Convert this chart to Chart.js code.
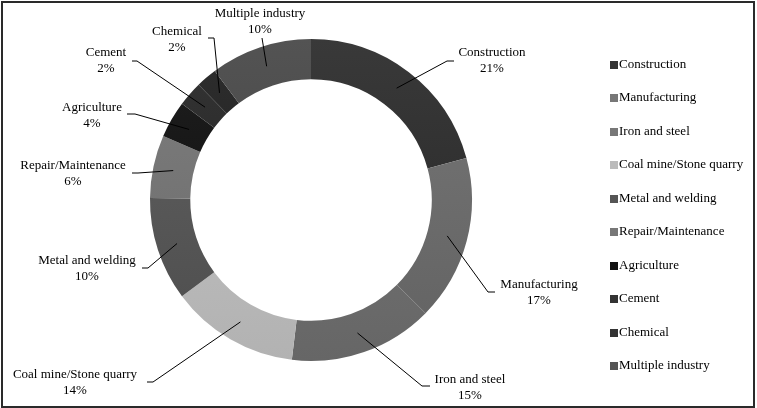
<!DOCTYPE html>
<html>
<head>
<meta charset="utf-8">
<script src="https://cdn.jsdelivr.net/npm/chart.js@4/dist/chart.umd.min.js"></script>
<style>
html,body{margin:0;padding:0;background:#fff;}
#wrap{width:757px;height:408px;position:relative;}
</style>
</head>
<body>
<div id="wrap"><canvas id="c" width="757" height="408"></canvas></div>
<script>
// ---- data ----
const categories = ["Construction","Manufacturing","Iron and steel","Coal mine/Stone quarry","Metal and welding","Repair/Maintenance","Agriculture","Cement","Chemical","Multiple industry"];
const shares = [20.8, 16.6, 14.5, 12.9, 10.4, 6.3, 3.7, 2.5, 2.1, 10.2];
const percentLabels = ["21%","17%","15%","14%","10%","6%","4%","2%","2%","10%"];

// ---- styles ----
const baseColors = ["#2f2f2f","#6c6c6c","#707070","#bcbcbc","#575757","#747474","#151515","#2a2a2a","#242424","#494949"];
const legendColors = ["#333333","#777777","#777777","#bbbbbb","#555555","#777777","#111111","#333333","#333333","#555555"];
const FONT = '13px "Liberation Serif", "Times New Roman", serif';

// label layout: text centre (first line), leader elbow and stub end
const labelLayout = [
  {tx:492, ty:53, ex:447, ey:61, hx:454},
  {tx:539, ty:285, ex:488, ey:292, hx:495},
  {tx:470, ty:380, ex:422, ey:386, hx:430},
  {tx:75,  ty:375, ex:153, ey:382, hx:147},
  {tx:87,  ty:261, ex:148, ey:268, hx:142},
  {tx:73,  ty:166, ex:138, ey:173, hx:132},
  {tx:92,  ty:108, ex:135, ey:114, hx:127},
  {tx:106, ty:53,  ex:137, ey:61,  hx:132},
  {tx:177, ty:32,  ex:214, ey:38,  hx:208},
  {tx:260, ty:14,  ex:262, ey:38,  hx:262}
];

function shade(hex, amt){
  const n = parseInt(hex.slice(1),16);
  let r=(n>>16)&255,g=(n>>8)&255,b=n&255;
  r=Math.max(0,Math.min(255,r+amt));g=Math.max(0,Math.min(255,g+amt));b=Math.max(0,Math.min(255,b+amt));
  return `rgb(${r},${g},${b})`;
}

const bgScript = (ctx) => {
  const chart = ctx.chart;
  const area = chart.chartArea;
  const base = baseColors[ctx.dataIndex % baseColors.length];
  if (!area) return base;
  const g = chart.ctx.createLinearGradient(0, area.top, 0, area.bottom);
  g.addColorStop(0, shade(base, 10));
  g.addColorStop(1, shade(base, -10));
  return g;
};

const labelsPlugin = {
  id: 'labelsPlugin',
  afterDatasetsDraw(chart){
    const ctx = chart.ctx;
    const meta = chart.getDatasetMeta(0);
    ctx.save();
    ctx.strokeStyle = '#000';
    ctx.lineWidth = 1;
    meta.data.forEach((arc, i) => {
      const p = arc.getProps(['x','y','startAngle','endAngle','innerRadius','outerRadius'], true);
      const mid = (p.startAngle + p.endAngle)/2;
      const r = (p.innerRadius + p.outerRadius)/2;
      const sx = p.x + Math.cos(mid)*r, sy = p.y + Math.sin(mid)*r;
      const L = labelLayout[i];
      ctx.beginPath();
      ctx.moveTo(sx, sy);
      ctx.lineTo(L.ex, L.ey);
      ctx.lineTo(L.hx, L.ey);
      ctx.stroke();
    });
    ctx.fillStyle = '#000';
    ctx.font = FONT;
    ctx.textAlign = 'center';
    ctx.textBaseline = 'middle';
    categories.forEach((c, i) => {
      const L = labelLayout[i];
      ctx.fillText(c, L.tx, L.ty);
      ctx.fillText(percentLabels[i], L.tx, L.ty + 15.5);
    });
    ctx.restore();
  },
  afterDraw(chart){
    const ctx = chart.ctx;
    ctx.save();
    // legend
    ctx.font = FONT;
    ctx.textAlign = 'left';
    ctx.textBaseline = 'middle';
    chart.data.labels.forEach((lab, i) => {
      const y = 64.5 + i*33.5;
      ctx.fillStyle = legendColors[i];
      ctx.fillRect(610, Math.round(y-4), 8, 8);
      ctx.fillStyle = '#000';
      ctx.fillText(lab, 619, y);
    });
    // frame
    ctx.strokeStyle = '#2a2a2a';
    ctx.lineWidth = 2;
    ctx.strokeRect(2, 2, 752, 405);
    ctx.restore();
  }
};

new Chart(document.getElementById('c'), {
  type: 'doughnut',
  data: {
    labels: categories,
    datasets: [{
      data: shares,
      backgroundColor: bgScript,
      borderWidth: 0,
      hoverOffset: 0
    }]
  },
  options: {
    responsive: false,
    animation: false,
    cutout: '75%',
    layout: { padding: { left: 150, right: 285, top: 39, bottom: 47 } },
    plugins: {
      legend: { display: false },
      tooltip: { enabled: false }
    }
  },
  plugins: [labelsPlugin]
});
</script>
</body>
</html>
